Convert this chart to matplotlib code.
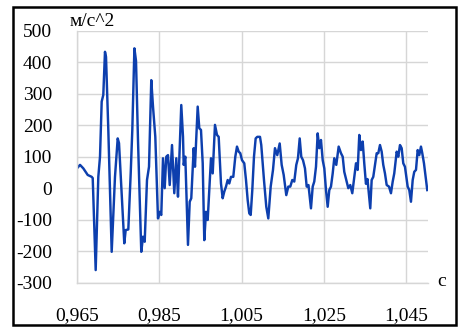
import matplotlib
matplotlib.use("Agg")
import matplotlib.pyplot as plt
from matplotlib.patches import Rectangle
from matplotlib.ticker import FuncFormatter, FixedLocator

# Time, s
t = [
    0.96500, 0.96573, 0.96653, 0.96760, 0.96857, 0.96882, 0.96954, 0.97018, 0.97059, 0.97100,
    0.97139, 0.97180, 0.97205, 0.97261, 0.97343, 0.97423, 0.97489, 0.97521, 0.97586, 0.97649,
    0.97683, 0.97747, 0.97805, 0.97844,
    0.97895, 0.97934, 0.97982, 0.98062, 0.98104, 0.98145, 0.98201, 0.98250, 0.98305, 0.98347,
    0.98403, 0.98468, 0.98510, 0.98548, 0.98590, 0.98631, 0.98670, 0.98711, 0.98753, 0.98809,
    0.98864, 0.98913, 0.98954, 0.98979, 0.99034, 0.99076, 0.99093, 0.99132, 0.99197, 0.99239,
    0.99277,
    0.99336, 0.99367, 0.99433, 0.99472, 0.99513, 0.99555, 0.99593, 0.99635, 0.99676, 0.99715,
    0.99756, 0.99798, 0.99853, 0.99902, 0.99943, 0.99999, 1.00040, 1.00079, 1.00121, 1.00162,
    1.00201, 1.00242, 1.00298, 1.00347, 1.00388, 1.00429, 1.00468, 1.00510, 1.00565, 1.00607,
    1.00648, 1.00687,
    1.00721, 1.00760, 1.00801, 1.00842, 1.00881, 1.00947, 1.00978, 1.01044, 1.01100, 1.01149,
    1.01207, 1.01263, 1.01311, 1.01367, 1.01426, 1.01474, 1.01523, 1.01586, 1.01635, 1.01683,
    1.01732, 1.01780, 1.01829, 1.01870, 1.01912, 1.01950, 1.01992, 1.02040, 1.02082, 1.02125,
    1.02186, 1.02228, 1.02266, 1.02308, 1.02349, 1.02388, 1.02429, 1.02471, 1.02510, 1.02551,
    1.02592, 1.02631, 1.02672, 1.02714, 1.02752, 1.02801, 1.02859, 1.02915, 1.02957, 1.02995,
    1.03044, 1.03093, 1.03141, 1.03190, 1.03238, 1.03280, 1.03321, 1.03360, 1.03401, 1.03443,
    1.03481, 1.03522, 1.03559,
    1.03596, 1.03627, 1.03661, 1.03700, 1.03741, 1.03783, 1.03822, 1.03863, 1.03904, 1.03943,
    1.03984, 1.04026, 1.04082, 1.04130, 1.04172, 1.04210, 1.04269, 1.04308, 1.04349, 1.04390,
    1.04429, 1.04470, 1.04536, 1.04575, 1.04616, 1.04658, 1.04696, 1.04738, 1.04779, 1.04818,
    1.04859, 1.04891, 1.04932, 1.04973, 1.05012,
]

# Acceleration, m/s^2
accel = [
    64, 75, 64, 43, 37, 33, -259, 37, 101, 276,
    297, 434, 418, 186, -201, 37, 159, 144, -15, -174,
    -132, -130, 48, 186,
    445, 405, 154, -201, -153, -169, 27, 69, 344, 260,
    164, -95, -74, -84, 96, 1, 101, 106, 11, 138,
    -15, 96, -26, 69, 265, 164, 75, 101, -179, -42,
    -31,
    128, 69, 260, 191, 186, 80, -164, -74, -100, -5,
    96, 48, 202, 170, 164, 16, -31, -10, 6, 27,
    16, 37, 37, 101, 133, 117, 112, 90, 80, 27,
    -37, -79,
    -84, -5, 101, 159, 164, 164, 138, 27, -58, -95,
    6, 59, 128, 106, 143, 75, 43, -21, 6, 6,
    27, 22, 75, 96, 159, 101, 90, 64, 6, 11,
    -63, 6, 22, 69, 175, 128, 154, 90, 64, -5,
    -58, -5, 6, 48, 96, 75, 133, 112, 101, 53,
    27, 1, 11, -15, 37, 80, 59, 170, 122, 149,
    80, 15, 30,
    -21, -63, 27, 37, 75, 112, 112, 138, 117, 75,
    48, 11, 6, -15, 22, 48, 117, 101, 138, 128,
    80, 69, 6, -5, -42, 27, 53, 59, 122, 106,
    133, 112, 80, 37, -5,
]

x_ticks = [0.965, 0.985, 1.005, 1.025, 1.045]
y_ticks = [-300, -200, -100, 0, 100, 200, 300, 400, 500]
y_label = "м/с^2"
x_label = "с"

plt.rcParams["font.family"] = ["Liberation Serif", "DejaVu Serif"]

fig = plt.figure(figsize=(4.62, 3.27), dpi=100)
fig.patch.set_facecolor("white")

# outer frame
fig.patches.append(Rectangle((13 / 462, 2 / 327), 443 / 462, 318 / 327,
                             transform=fig.transFigure, fill=False,
                             edgecolor="black", linewidth=1.8))

ax = fig.add_axes([77 / 462, 1 - 283 / 327, 351 / 462, 252 / 327])
grid_c = "#d6d6d6"
ax.plot(t, accel, color="#0d3fae", linewidth=1.75, solid_joinstyle="round")

ax.set_xlim(0.965, 1.0503)
ax.set_ylim(-300, 500)
ax.xaxis.set_major_locator(FixedLocator(x_ticks))
ax.yaxis.set_major_locator(FixedLocator(y_ticks))
ax.xaxis.set_major_formatter(FuncFormatter(lambda v, p: f"{v:.3f}".replace(".", ",")))
ax.yaxis.set_major_formatter(FuncFormatter(lambda v, p: f"{int(round(v))}"))
ax.grid(True, color=grid_c, linewidth=1.0)
ax.set_axisbelow(True)
for s in ("top", "right"):
    ax.spines[s].set_visible(False)
for s in ("left", "bottom"):
    ax.spines[s].set_color(grid_c)
    ax.spines[s].set_linewidth(1.0)
ax.tick_params(length=0, labelsize=14, colors="black")
ax.tick_params(axis="y", pad=18)
ax.tick_params(axis="x", pad=17)

fig.text(70 / 462, 1 - 26 / 327, y_label, fontsize=14, ha="left", va="baseline")
fig.text(442 / 462, 1 - 286 / 327, x_label, fontsize=14, ha="center", va="baseline")

fig.savefig("out.png", dpi=100, facecolor="white")
